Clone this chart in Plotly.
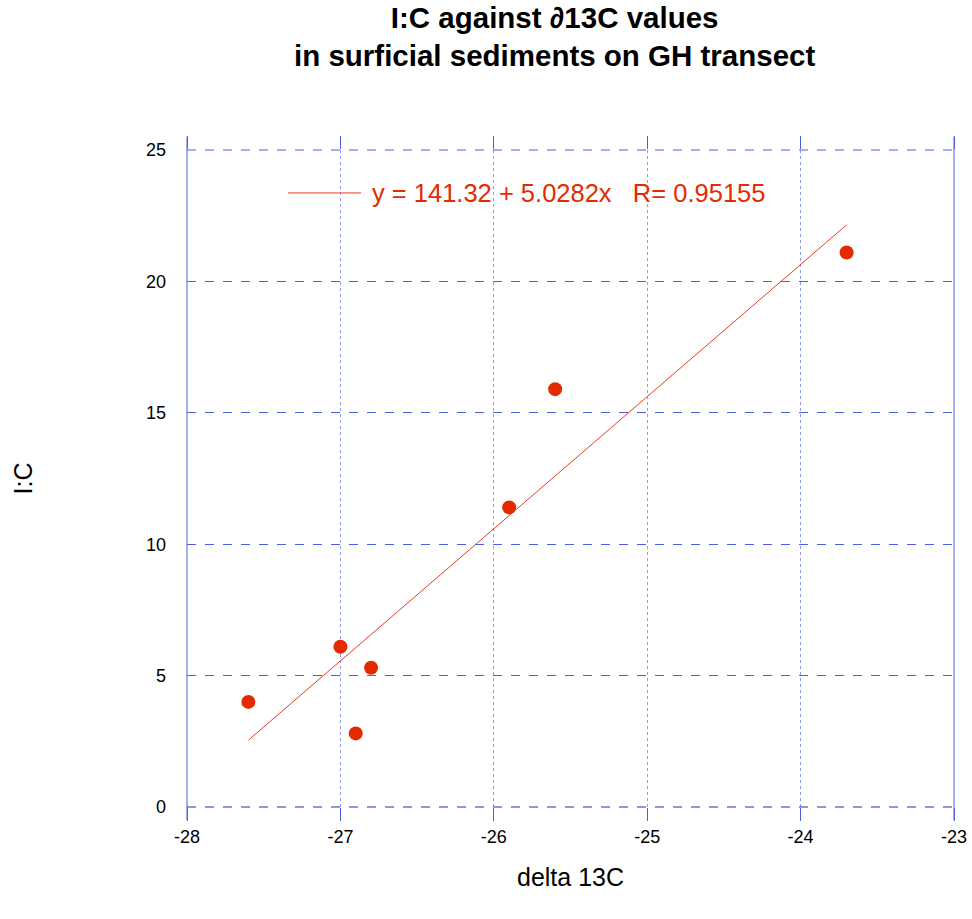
import plotly.graph_objects as go

delta13c = [-27.6, -27.0, -26.8, -26.9, -25.9, -25.6, -23.7]
ic_ratio = [4.0, 6.1, 5.3, 2.8, 11.4, 15.9, 21.1]
fit_intercept = 141.32
fit_slope = 5.0282
fit_r = 0.95155
x_ticks = [-28, -27, -26, -25, -24, -23]
y_ticks = [0, 5, 10, 15, 20, 25]

RED = "#e62a00"
BLUE = "#4a5fe6"

fit_x = [min(delta13c), max(delta13c)]
fit_y = [fit_intercept + fit_slope * v for v in fit_x]

fig = go.Figure()
fig.add_trace(go.Scatter(x=fit_x, y=fit_y, mode="lines",
                         line=dict(color="#ee3a20", width=1), showlegend=False,
                         hoverinfo="skip"))
fig.add_trace(go.Scatter(x=delta13c, y=ic_ratio, mode="markers",
                         marker=dict(color=RED, size=14, line=dict(width=0)),
                         showlegend=False))

font = "Liberation Sans, Arial, sans-serif"

fig.update_layout(
    width=972, height=919,
    margin=dict(l=187, r=18, t=150, b=112, autoexpand=False),
    paper_bgcolor="white", plot_bgcolor="white",
    font=dict(family=font, size=18, color="black"),
    showlegend=False,
)

# title (two lines)
fig.add_annotation(xref="paper", yref="paper", x=0.4785, y=1.172, xanchor="center",
                   yanchor="middle", showarrow=False, align="center",
                   text="<b>I:C against ∂13C values<br>in surficial sediments on GH transect</b>",
                   font=dict(family=font, size=29.5, color="black"))

fig.update_xaxes(range=[-28, -23], tickvals=x_ticks, ticktext=[str(v) for v in x_ticks],
                 showgrid=True, gridcolor="#8f9cf0", griddash="dot", gridwidth=1,
                 zeroline=False, showline=False, automargin=False,
                 ticklabeloverflow="allow",
                 ticks="outside", ticklen=13, tickcolor=BLUE, tickwidth=1, mirror="ticks",
                 tickfont=dict(size=18, family=font),
                 title=dict(text="delta 13C", font=dict(size=25, family=font), standoff=22))
fig.update_yaxes(range=[0, 25], tickvals=y_ticks, ticktext=[str(v) for v in y_ticks],
                 showgrid=True, gridcolor=BLUE, griddash="dash", gridwidth=1,
                 zeroline=False, showline=False, ticks="", ticklabelstandoff=20,
                 automargin=False,
                 tickfont=dict(size=18, family=font),
                 title=dict(text="I:C", font=dict(size=25, family=font), standoff=106))

# frame
fig.add_shape(type="line", xref="paper", yref="paper", x0=0, x1=0, y0=-0.02, y1=1.02,
              line=dict(color=BLUE, width=1))
fig.add_shape(type="line", xref="paper", yref="paper", x0=1, x1=1, y0=-0.02, y1=1.02,
              line=dict(color=BLUE, width=1))
fig.add_shape(type="line", xref="paper", yref="paper", x0=0, x1=1, y0=1, y1=1,
              line=dict(color=BLUE, width=1, dash="dash"))
fig.add_shape(type="line", xref="paper", yref="paper", x0=0, x1=1, y0=0, y1=0,
              line=dict(color="#2233aa", width=1, dash="dash"))

# legend with fit equation
fig.add_shape(type="line", xref="paper", yref="paper", x0=0.1317, x1=0.2269,
              y0=0.9346, y1=0.9346, line=dict(color="#ee3a20", width=1))
fig.add_annotation(xref="paper", yref="paper", x=0.2386, y=0.9346, xanchor="left",
                   yanchor="middle", showarrow=False,
                   text=f"y = {fit_intercept} + {fit_slope}x   R= {fit_r}",
                   font=dict(size=25.5, color=RED, family=font))

fig.write_html("out.html")
